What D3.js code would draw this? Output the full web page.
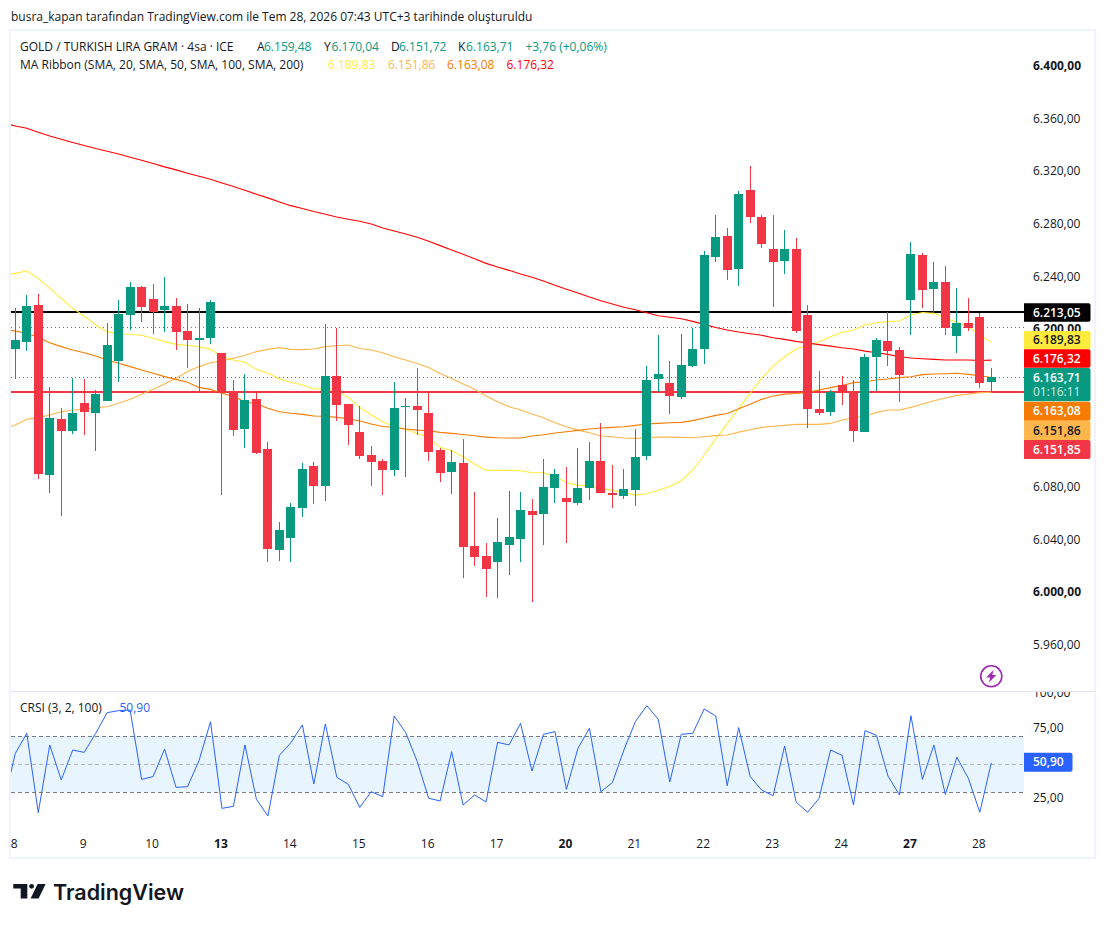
<!DOCTYPE html>
<html><head><meta charset="utf-8">
<script src="https://cdn.jsdelivr.net/npm/d3@7"></script>
<style>
html,body{margin:0;padding:0;background:#fff;overflow:hidden}
svg{display:block}
text{font-family:"Open Sans",sans-serif;font-size:12px;fill:#131722}
</style></head><body><svg id="c" width="1106" height="925"></svg>
<script>
const candleOpen=[6184.8,6190.1,6218.3,6089.0,6131.6,6122.4,6143.7,6136.1,6145.3,6175.7,6210.7,6232.0,6222.8,6214.5,6217.5,6198.5,6191.6,6193.2,6181.8,6152.9,6124.0,6146.8,6108.7,6031.9,6041.1,6063.9,6095.8,6080.6,6164.3,6143.0,
6121.6,6104.1,6099.6,6092.7,6140.6,6141.4,6136.1,6107.9,6091.2,6098.0,6034.9,6027.3,6022.8,6035.7,6040.3,6061.5,6059.3,6079.0,6071.4,6067.6,6079.0,6099.6,6075.2,6073.0,6077.5,6103.4,6161.9,6158.9,
6148.3,6171.8,6184.8,6254.7,6270.7,6245.6,6305.7,6285.2,6260.8,6251.7,6260.8,6210.6,6139.2,6136.9,6157.4,6151.3,6121.6,6178.7,6190.8,6184.0,6222.0,6256.3,6230.4,6235.7,6194.7,6204.5,6209.1,6159.48];
const candleHigh=[6215.7,6225.9,6226.6,6155.9,6139.9,6162.7,6162.0,6153.6,6204.6,6222.1,6235.8,6232.7,6234.2,6239.6,6223.6,6219.0,6216.0,6222.1,6181.8,6161.2,6165.8,6151.1,6114.1,6053.2,6067.7,6098.1,6098.9,6203.8,6200.8,6143.0,
6141.4,6111.0,6101.1,6159.6,6147.5,6170.3,6151.0,6109.5,6107.9,6116.3,6076.0,6037.2,6056.2,6076.8,6076.0,6070.7,6101.1,6093.5,6095.0,6109.5,6114.0,6128.5,6096.5,6093.5,6123.9,6171.8,6195.4,6175.6,
6196.2,6200.7,6259.3,6286.7,6276.8,6304.9,6323.9,6286.7,6286.7,6275.3,6269.2,6218.2,6168.0,6153.6,6164.2,6161.2,6181.0,6193.1,6212.9,6186.3,6266.1,6257.8,6250.9,6247.9,6231.2,6223.6,6212.1,6170.04];
const candleLow=[6162.0,6183.5,6085.9,6075.3,6057.8,6120.2,6119.4,6107.2,6145.3,6159.7,6199.2,6205.3,6196.2,6197.7,6184.0,6170.3,6151.1,6188.6,6073.8,6118.6,6109.5,6104.9,6022.8,6023.6,6022.8,6057.0,6066.9,6069.2,6130.0,6111.8,
6101.1,6080.6,6073.7,6088.2,6087.4,6119.3,6099.6,6083.6,6074.5,6010.6,6019.7,5996.1,5995.4,6012.9,6022.8,5992.3,6035.7,6067.6,6037.2,6066.1,6069.9,6075.2,6063.8,6070.7,6065.3,6100.3,6152.0,6135.3,
6146.7,6171.1,6173.4,6250.9,6237.2,6232.7,6280.6,6261.6,6216.7,6241.8,6196.9,6124.7,6134.6,6133.8,6142.2,6114.0,6121.6,6152.8,6171.8,6144.5,6195.4,6216.0,6212.1,6195.4,6181.7,6198.5,6155.1,6151.72];
const candleClose=[6191.6,6217.5,6089.7,6132.3,6122.4,6136.1,6136.9,6150.6,6187.8,6211.4,6232.0,6216.7,6212.9,6217.5,6197.7,6191.6,6193.2,6220.5,6151.3,6123.2,6146.0,6105.7,6032.7,6047.2,6064.6,6093.5,6080.6,6164.3,6142.2,6127.0,
6103.4,6098.8,6092.7,6139.9,6141.4,6138.4,6106.4,6090.4,6098.8,6034.2,6026.6,6017.4,6038.0,6041.8,6062.3,6058.5,6079.8,6089.7,6068.4,6079.0,6099.6,6075.2,6073.7,6078.3,6102.6,6161.2,6165.7,6149.0,
6172.6,6184.8,6256.3,6269.9,6244.8,6302.6,6285.2,6264.6,6250.9,6260.8,6198.5,6139.2,6136.1,6152.1,6152.8,6122.4,6178.7,6191.6,6183.2,6165.0,6257.0,6229.6,6235.7,6200.7,6204.5,6200.7,6158.9,6163.71];

// first value of each series lies just before the first whole candle (index -1)
const ma20=[6241.1,6242.3,6244.1,6238.5,6230.9,6223.3,6215.7,6209.9,6203.1,6198.0,6196.2,6196.0,6195.2,6192.9,6190.4,6188.3,6187.6,6186.6,6184.5,6179.0,6176.4,6174.7,6169.3,6166.3,6162.0,6159.5,6157.4,6154.4,6154.6,6152.9,6148.0,
6140.4,6134.6,6129.5,6125.7,6123.6,6120.6,6117.6,6110.0,6107.4,6102.9,6097.3,6092.5,6092.5,6092.5,6092.2,6090.7,6090.7,6087.7,6083.3,6081.1,6080.8,6078.8,6077.3,6075.7,6073.7,6074.7,6077.3,6080.3,
6084.4,6092.8,6104.2,6116.4,6127.8,6139.6,6151.1,6162.4,6171.8,6178.9,6184.8,6187.3,6190.3,6194.1,6197.4,6199.2,6203.0,6204.8,6205.6,6206.1,6210.6,6212.6,6211.9,6208.6,6205.0,6201.8,6195.4,6189.83];
const ma50=[6124.5,6127.0,6131.3,6132.6,6134.6,6137.1,6138.4,6138.9,6140.2,6140.9,6143.5,6146.5,6150.3,6154.1,6158.2,6162.5,6167.6,6171.4,6174.4,6175.7,6177.7,6180.0,6182.8,6184.5,6185.8,6184.5,6184.3,6184.8,6186.6,6187.3,6187.8,
6185.2,6184.0,6182.0,6178.9,6176.4,6173.8,6170.8,6166.2,6162.4,6158.1,6154.1,6149.0,6144.7,6140.9,6138.4,6135.3,6132.5,6128.7,6125.7,6123.1,6121.1,6118.6,6118.1,6117.1,6116.8,6117.3,6117.8,6117.8,
6117.6,6117.3,6118.1,6118.9,6119.4,6121.6,6123.4,6125.2,6126.0,6126.7,6127.5,6127.5,6127.5,6128.2,6130.8,6132.5,6133.6,6136.6,6138.4,6138.4,6140.4,6142.9,6145.5,6147.5,6149.5,6150.5,6151.6,6151.86];
const ma100=[6199.8,6198.5,6196.7,6193.7,6189.6,6186.6,6184.0,6182.0,6179.5,6176.4,6173.9,6171.4,6168.8,6166.3,6163.8,6161.7,6159.5,6155.6,6154.1,6151.1,6148.6,6144.7,6143.0,6139.7,6137.1,6135.9,6135.1,6133.8,6133.6,6132.8,6131.8,
6130.0,6127.7,6125.9,6125.2,6123.9,6123.1,6122.6,6121.4,6120.6,6119.8,6118.8,6117.8,6117.3,6117.1,6117.1,6118.6,6119.6,6120.9,6121.9,6122.9,6123.9,6124.7,6125.2,6125.7,6126.7,6127.7,6128.2,6128.7,
6129.0,6130.3,6132.3,6134.3,6135.8,6139.4,6142.7,6146.5,6149.0,6150.5,6151.0,6151.8,6153.6,6155.4,6157.1,6159.2,6159.9,6161.2,6162.0,6163.0,6163.7,6165.3,6165.8,6166.0,6166.3,6165.5,6164.5,6163.08];
const ma200=[6356.7,6354.4,6352.7,6349.6,6346.8,6344.3,6341.8,6339.5,6337.2,6335.2,6333.1,6330.6,6328.3,6325.8,6323.3,6321.0,6318.4,6316.2,6313.9,6311.1,6308.3,6305.5,6302.5,6299.7,6296.6,6293.8,6291.6,6289.3,6287.3,6285.2,
6283.4,6281.9,6279.8,6276.8,6274.5,6272.2,6269.7,6266.7,6263.4,6260.1,6256.8,6253.5,6249.9,6247.1,6244.6,6241.8,6239.3,6236.5,6233.2,6230.2,6227.4,6224.3,6221.5,6219.0,6216.5,6214.7,6212.4,6210.1,6208.9,
6207.8,6205.8,6203.5,6201.2,6199.2,6197.7,6196.4,6195.2,6193.4,6192.1,6190.6,6189.3,6188.1,6187.0,6185.8,6184.8,6183.2,6182.0,6180.7,6178.9,6177.9,6177.4,6176.9,6176.4,6176.4,6176.4,6176.1,6176.32];
const crsi=[22.6,57.6,71.9,15.2,63.6,38.6,60.0,58.3,71.9,86.7,88.1,88.6,39.0,41.0,60.7,33.3,33.8,52.4,80.2,18.3,19.8,63.6,24.8,12.9,56.2,65.2,77.9,35.7,78.6,40.5,35.5,
19.0,30.2,26.7,84.3,72.4,51.9,25.5,23.6,58.8,20.7,27.9,22.9,65.5,63.6,79.0,45.0,71.2,73.1,31.9,61.2,75.5,30.2,36.7,60.0,80.2,91.7,81.9,37.1,71.2,71.9,
89.3,84.3,34.5,76.0,41.0,31.4,27.4,62.9,22.9,15.5,25.5,60.0,56.2,20.7,73.8,70.5,41.4,27.9,84.5,39.0,63.6,28.3,54.8,39.8,15.5,50.90];

const priceTicks=[6400,6360,6320,6280,6240,6200,6160,6120,6080,6040,6000,5960];
const boldPriceTicks=[6400,6200,6000];
const crsiTicks=[100,75,25];
const dayLabels=["8","9","10","13","14","15","16","17","20","21","22","23","24","27","28"];
const boldDays=["13","20","27"];
const horizontalLines=[{v:6213.05,c:"#000000"},{v:6151.85,c:"#f23645"}];
const dottedLines=[{v:6201.3,c:"#f23645"},{v:6163.71,c:"#089981"}];
const crsiLevels=[70,50,30];
const maColors=["#ffeb3b","#ffb74d","#f57c00","#ff0000"];
const GREEN="#089981",RED="#f23645",BLUE="#2962ff";

const tr=d3.formatLocale({decimal:",",thousands:".",grouping:[3],currency:["",""]});
const fmt=tr.format(",.2f");

const svg=d3.select("#c");
const L=11,R=1023,PT=31,PB=691,CT=692,CB=834;
const x=d3.scaleLinear().domain([0,85]).range([15.3,991.3]);
const y=d3.scaleLinear().domain([5960,6400]).range([644.6,66]);
const yc=d3.scaleLinear().domain([0,100]).range([834,694]);
const defs=svg.append("defs");
defs.append("clipPath").attr("id","main").append("rect").attr("x",L).attr("y",PT).attr("width",R-L+1).attr("height",PB-PT);
defs.append("clipPath").attr("id","low").append("rect").attr("x",L).attr("y",CT).attr("width",R-L+1).attr("height",858-CT);
defs.append("clipPath").attr("id","axisMain").append("rect").attr("x",1024).attr("y",PT).attr("width",70).attr("height",PB-PT);
defs.append("clipPath").attr("id","axisLow").append("rect").attr("x",1024).attr("y",CT).attr("width",70).attr("height",130);

// frame
const fr=svg.append("g").attr("fill","none").attr("stroke","#f0f3fa").attr("stroke-width",2).attr("shape-rendering","crispEdges");
fr.append("rect").attr("x",10).attr("y",30).attr("width",1085).attr("height",828);
svg.append("line").attr("x1",11).attr("x2",1095).attr("y1",691.5).attr("y2",691.5).attr("stroke","#e0e3eb");

// main pane
const m=svg.append("g").attr("clip-path","url(#main)");
m.selectAll(".dot").data(dottedLines).join("line").attr("x1",L).attr("x2",R+1)
 .attr("y1",d=>Math.round(y(d.v))+.5).attr("y2",d=>Math.round(y(d.v))+.5).attr("stroke",d=>d.c).attr("stroke-dasharray","1,3");
m.selectAll(".hl").data(horizontalLines).join("line").attr("x1",L).attr("x2",R+1)
 .attr("y1",d=>Math.round(y(d.v))).attr("y2",d=>Math.round(y(d.v))).attr("stroke",d=>d.c).attr("stroke-width",2);
const line=d3.line().x((d,i)=>x(i-1)).y(d=>y(d));
[ma20,ma50,ma100,ma200].forEach((s,k)=>m.append("path").attr("d",line(s)).attr("fill","none").attr("stroke",maColors[k]).attr("stroke-width",1.1));

const idx=d3.range(candleOpen.length);
const col=i=>candleClose[i]>=candleOpen[i]?GREEN:RED;
const cg=m.append("g").attr("shape-rendering","crispEdges");
cg.selectAll(".w").data(idx).join("rect").attr("x",i=>Math.round(x(i)-.5)).attr("width",1)
 .attr("y",i=>Math.round(y(candleHigh[i]))).attr("height",i=>Math.max(1,Math.round(y(candleLow[i]))-Math.round(y(candleHigh[i])))).attr("fill",col);
cg.selectAll(".b").data(idx).join("rect").attr("x",i=>Math.round(x(i)-.5)-4).attr("width",9)
 .attr("y",i=>Math.round(y(Math.max(candleOpen[i],candleClose[i]))))
 .attr("height",i=>Math.max(1,Math.round(y(Math.min(candleOpen[i],candleClose[i])))-Math.round(y(Math.max(candleOpen[i],candleClose[i])))))
 .attr("fill",col);

// lightning
const ic=svg.append("g").attr("transform","translate(991.3,676.3)");
ic.append("circle").attr("r",10.5).attr("fill","#fff").attr("stroke","#9c27b0").attr("stroke-width",1.6);
ic.append("path").attr("d","M2.2,-6.2 L-5,1.2 L-1,1.2 L-2.4,6.2 L5,-1.2 L1,-1.2 Z").attr("fill","#9c27b0");

// price axis
const pa=svg.append("g").attr("clip-path","url(#axisMain)");
pa.selectAll("text").data(priceTicks).join("text").attr("x",1033).attr("y",d=>y(d)).attr("dy","0.35em")
 .attr("font-weight",d=>boldPriceTicks.includes(d)?"700":"400").text(d=>fmt(d));

// price tags
const tags=[{v:6213.05,t:303.3,h:18.5,bg:"#000000",c:"#fff"},{v:6189.83,t:331,h:18.3,bg:"#ffeb3b",c:"#131722"},{v:6176.32,t:349.3,h:18.4,bg:"#ff0000",c:"#fff"},
 {v:6163.71,t:368,h:33.3,bg:GREEN,c:"#fff",sub:"01:16:11"},{v:6163.08,t:401.7,h:19,bg:"#f57c00",c:"#fff"},{v:6151.86,t:420.7,h:19.3,bg:"#ffb74d",c:"#131722"},{v:6151.85,t:440,h:19,bg:RED,c:"#fff"}];
const tg=svg.append("g");
tags.forEach(d=>{
 tg.append("path").attr("fill",d.bg).attr("d",`M1024,${d.t}H1088.5a2,2 0 0 1 2,2V${d.t+d.h-2}a2,2 0 0 1 -2,2H1024Z`);
 tg.append("text").attr("x",1033).attr("y",d.t+(d.sub?9.5:d.h/2)).attr("dy","0.35em").attr("font-weight",600).style("fill",d.c).text(fmt(d.v));
 if(d.sub)tg.append("text").attr("x",1033).attr("y",d.t+24).attr("dy","0.35em").style("fill",d.c).attr("opacity",.8).text(d.sub);
});

// CRSI pane
const c=svg.append("g").attr("clip-path","url(#low)");
c.append("rect").attr("x",L).attr("width",R-L+1).attr("y",yc(70)).attr("height",yc(30)-yc(70)).attr("fill","#2196f3").attr("opacity",.1);
c.selectAll(".lv").data(crsiLevels).join("line").attr("x1",L).attr("x2",R+1).attr("y1",d=>Math.round(yc(d))+.5).attr("y2",d=>Math.round(yc(d))+.5)
 .attr("stroke","#787b86").attr("stroke-dasharray","4,3").attr("opacity",d=>d===50?.5:1);
c.append("path").attr("d",d3.line().x((d,i)=>x(i-1)).y(d=>yc(d))(crsi)).attr("fill","none").attr("stroke",BLUE).attr("stroke-width",1);
const ca=svg.append("g").attr("clip-path","url(#axisLow)");
ca.selectAll("text").data(crsiTicks).join("text").attr("x",1033).attr("y",d=>yc(d)-1).attr("dy","0.35em").text(d=>fmt(d));
tg.append("path").attr("fill",BLUE).attr("d","M1024,752.7H1070.5a2,2 0 0 1 2,2V769.7a2,2 0 0 1 -2,2H1024Z");
tg.append("text").attr("x",1033).attr("y",762.2).attr("dy","0.35em").attr("font-weight",600).style("fill","#fff").text("50,90");

// time axis
svg.append("g").selectAll("text").data(dayLabels).join("text").attr("x",(d,i)=>x(i*6)-1).attr("y",844).attr("dy","0.35em")
 .attr("text-anchor","middle").attr("font-weight",d=>boldDays.includes(d)?"700":"400").text(d=>d);

// header and legends
svg.append("text").attr("x",11).attr("y",21).text("busra_kapan tarafından TradingView.com ile Tem 28, 2026 07:43 UTC+3 tarihinde oluşturuldu");
const leg=(tx,px,py,col)=>svg.append("text").attr("x",px).attr("y",py).style("fill",col||"#131722").text(tx);
leg("GOLD / TURKISH LIRA GRAM · 4sa · ICE",20,51);
[["A",257,"6.159,48",264],["Y",324,"6.170,04",331.5],["D",391,"6.151,72",399],["K",458,"6.163,71",466]].forEach(a=>{leg(a[0],a[1],51);leg(a[2],a[3],51,"#089981");});
leg("+3,76 (+0,06%)",525.5,51,"#089981");
leg("MA Ribbon (SMA, 20, SMA, 50, SMA, 100, SMA, 200)",20,69);
[["6.189,83",328,0],["6.151,86",388,1],["6.163,08",447,2],["6.176,32",506.5,3]].forEach(a=>leg(a[0],a[1],69,maColors[a[2]]));
leg("CRSI (3, 2, 100)",20,712);
leg("50,90",119.5,712,BLUE);

// logo
const lg=svg.append("g").attr("fill","#131722");
lg.append("path").attr("d","M13.3,884H27.3V898.4H20.7V888.6H13.3Z");
lg.append("circle").attr("cx",31.6).attr("cy",886.3).attr("r",2.4);
lg.append("path").attr("d","M37.6,884H45.6L38.6,898.4H30.6Z");
svg.append("text").attr("x",53).attr("y",900).style("font-family","Inter,sans-serif").style("font-size","21.5px").style("font-weight","600").text("TradingView");
</script></body></html>
